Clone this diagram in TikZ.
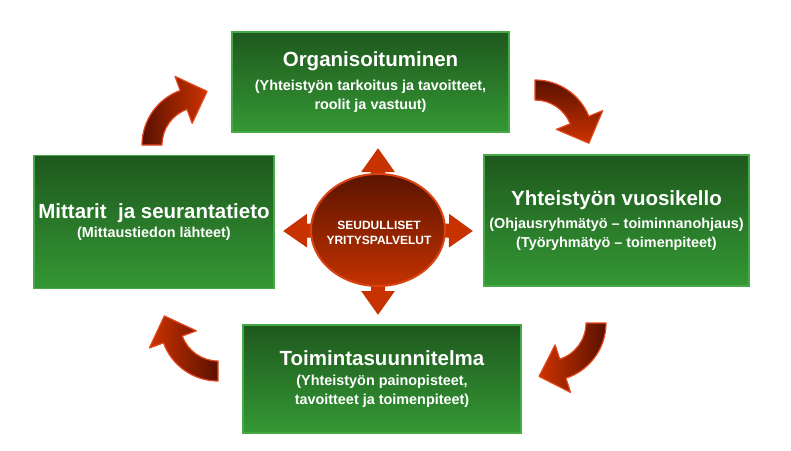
\documentclass[tikz,border=0pt]{standalone}
\usepackage{fontspec}
\setmainfont{Liberation Sans}
\usetikzlibrary{shapes.geometric,arrows.meta,calc}
\definecolor{boxtop}{HTML}{1E581E}
\definecolor{boxbot}{HTML}{349834}
\definecolor{boxedge}{HTML}{45AA45}
\definecolor{hubtop}{HTML}{5A1400}
\definecolor{hubbot}{HTML}{C43200}
\definecolor{hubedge}{HTML}{D8430F}
\definecolor{arrflat}{HTML}{C83200}
\definecolor{arrdark}{HTML}{5A1000}
\definecolor{arrbright}{HTML}{CC3300}
\definecolor{arredge}{HTML}{E2481C}
\newcommand{\titlef}{\fontsize{20.5}{24}\selectfont}
\newcommand{\subf}{\fontsize{14.4}{19.5}\selectfont}
\newcommand{\hubf}{\fontsize{12}{15}\selectfont}
% curved arrow: #1 centre, #2 start angle, #3 end angle, #4 shading
\newcommand{\curvedarr}[4]{%
  \path[#4, draw=arredge, line width=1.2pt, line join=round]
    ($#1+(#2:58)$) arc[start angle=#2, end angle=#3, radius=58]
    -- ($#1+(#3:73)$) -- ($#1+(#3:48)+(#3+90:25)$) -- ($#1+(#3:23)$)
    -- ($#1+(#3:38)$) arc[start angle=#3, end angle=#2, radius=38] -- cycle;}
\tikzset{
  greenbox/.style={rectangle, top color=boxtop, bottom color=boxbot,
    draw=boxedge, line width=1.5pt, text=white, font=\bfseries,
    align=center, inner sep=0pt},
  hub/.style={ellipse, top color=hubtop, bottom color=hubbot, draw=hubedge,
    line width=2pt, minimum width=134pt, minimum height=112pt, inner sep=0pt,
    outer sep=0pt},
  hubtxt/.style={text=white, font=\bfseries\hubf, align=center, inner sep=0pt},
  crossarr/.style={draw=arrflat, line width=14pt,
    -{Triangle[length=24pt,width=32pt]}, arrflat}
}
\begin{document}
\begin{tikzpicture}[x=1pt,y=-1pt]
\useasboundingbox (0,0) rectangle (791,450);
\fill[white] (0,0) rectangle (791,450);

% boxes
\node[greenbox, minimum width=277pt, minimum height=100pt] (org) at (370.5,82)
  {\titlef Organisoituminen\\[8pt]\subf (Yhteistyön tarkoitus ja tavoitteet,\\[4.5pt]\subf roolit ja vastuut)};
\node[greenbox, minimum width=240pt, minimum height=133pt] (mit) at (154,222)
  {\titlef Mittarit\ \ ja seurantatieto\\[2.5pt]\subf (Mittaustiedon lähteet)};
\node[greenbox, minimum width=265pt, minimum height=131pt] (vuo) at (616.5,220.5)
  {\titlef Yhteistyön vuosikello\\[7pt]\subf (Ohjausryhmätyö -- toiminnanohjaus)\\[5pt]\subf (Työryhmätyö -- toimenpiteet)};
\node[greenbox, minimum width=278pt, minimum height=108pt] (toi) at (382,379)
  {\titlef Toimintasuunnitelma\\[8pt]\subf (Yhteistyön painopisteet,\\[4.5pt]\subf tavoitteet ja toimenpiteet)};

% hub with four arrows
\coordinate (hc) at (378,230);
\coordinate (tipN) at (378,148);
\coordinate (tipS) at (378,315);
\coordinate (tipE) at (473,231);
\coordinate (tipW) at (283,231);
\draw[crossarr] (hc) -- (tipN);
\draw[crossarr] (hc) -- (tipS);
\draw[crossarr] (hc) -- (tipE);
\draw[crossarr] (hc) -- (tipW);
\node[hub] (hubnode) at (hc) {};
\node[hubtxt] (hubtext) at (379,233) {SEUDULLISET\\YRITYSPALVELUT};

% curved arrows
\coordinate (ctl) at (200,145);
\coordinate (ctr) at (535,138);
\coordinate (cbr) at (548,323);
\coordinate (cbl) at (218,323);
\curvedarr{(ctl)}{180}{250}{left color=arrdark, right color=arrbright}
\curvedarr{(ctr)}{-90}{-22}{top color=arrdark, bottom color=arrbright}
\curvedarr{(cbr)}{0}{72}{right color=arrdark, left color=arrbright}
\curvedarr{(cbl)}{90}{160}{right color=arrdark, left color=arrbright}
\end{tikzpicture}
\end{document}
